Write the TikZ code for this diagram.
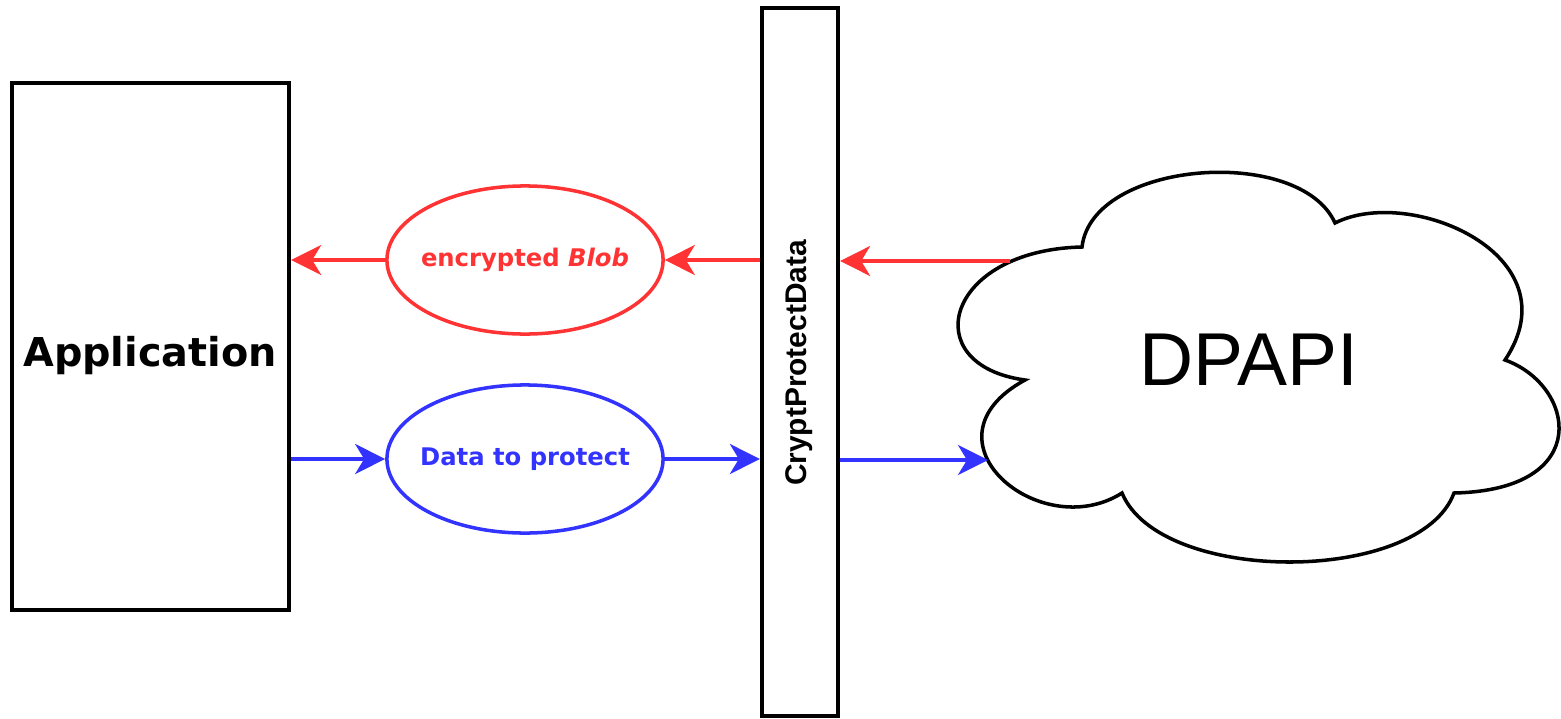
\documentclass[tikz,border=0pt]{standalone}
\usepackage{fontspec}
\setmainfont{DejaVu Sans}
\newfontfamily\arialfont{Liberation Sans}
\usepackage{tikz}
\usetikzlibrary{arrows.meta,shapes.geometric}
\definecolor{blobred}{HTML}{FF3333}
\definecolor{datablue}{HTML}{3333FF}

\begin{document}
\begin{tikzpicture}[x=0.01cm, y=-0.01cm,
        box/.style={draw, line width=1.2pt, fill=white, inner sep=0pt},
        flow/.style={draw, ellipse, line width=1pt, inner xsep=-0.5cm, inner ysep=0pt,
            minimum width=2.76cm, minimum height=1.48cm,
            font=\fontsize{6.9}{8}\selectfont\bfseries},
        redflow/.style={blobred, line width=1pt, -{Stealth[length=0.3cm, width=0.3cm, inset=0.09cm]}},
        blueflow/.style={datablue, line width=1pt, -{Stealth[length=0.3cm, width=0.3cm, inset=0.09cm]}}]

        \useasboundingbox (0,0) rectangle (1561,718);

        %Application
        \node [box, minimum width=2.77cm, minimum height=5.27cm] (app) at (150.5,346.5) {};
        \node [font=\fontsize{11.3}{13}\selectfont\bfseries] (applabel) at (150,356) {Application};

        %CryptProtectData
        \node [box, minimum width=0.76cm, minimum height=7.08cm] (bar) at (800,362) {};
        \node [rotate=90, font=\arialfont\fontsize{8.5}{10}\selectfont\bfseries] (barlabel) at (799,363) {CryptProtectData};

        %Ellipses
        \node [flow, draw=blobred, text=blobred] (blob) at (525,260) {encrypted \textit{Blob}};
        \node [flow, draw=datablue, text=datablue] (prot) at (525,459) {Data to protect};

        %DPAPI cloud
        \draw [line width=1pt, fill=white] (1082,247) .. controls (1092,160) and (1300,145) .. (1335,223)
            .. controls (1410,185) and (1575,255) .. (1505,360)
            .. controls (1575,385) and (1595,490) .. (1454,493)
            .. controls (1420,585) and (1160,585) .. (1122,493)
            .. controls (1040,545) and (915,440) .. (1025,380)
            .. controls (915,365) and (945,250) .. cycle;
        \node [font=\arialfont\fontsize{21.3}{24}\selectfont] (dpapi) at (1249,360) {DPAPI};
        \coordinate (cloudout) at (1010,261);
        \coordinate (cloudin) at (988,460);

        %Red arrows
        \draw [redflow] (cloudout) -- (bar.east |- cloudout);
        \draw [redflow] (bar.west |- blob) -- (blob.east);
        \draw [redflow] (blob.west) -- (app.east |- blob);

        %Blue arrows
        \draw [blueflow] (app.east |- prot) -- (prot.west);
        \draw [blueflow] (prot.east) -- (bar.west |- prot);
        \draw [blueflow] (bar.east |- cloudin) -- (cloudin);

\end{tikzpicture}
\end{document}
